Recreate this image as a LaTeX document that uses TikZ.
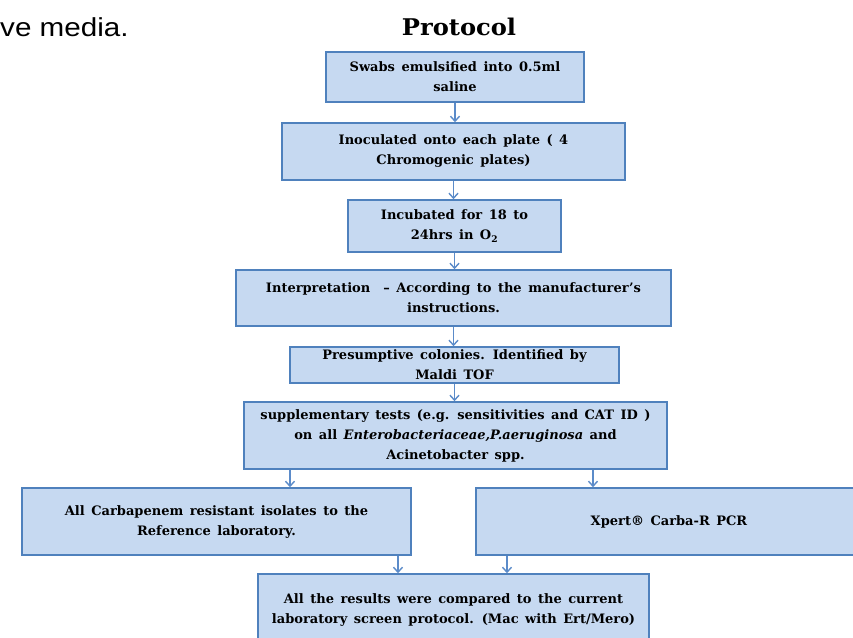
\documentclass[tikz,border=0pt]{standalone}
\usepackage{fontspec}
\setmainfont{DejaVu Serif}
\newfontfamily\slidefont{Liberation Sans}
\usetikzlibrary{arrows.meta}
\definecolor{boxfill}{HTML}{C6D9F1}
\definecolor{boxline}{HTML}{4F81BD}
\definecolor{flowline}{HTML}{5B8BC9}
\newcommand{\widewords}{\spaceskip=0.5em plus 0.1em\relax}
\tikzset{
  stepbox/.style={draw=boxline, line width=1.5pt, fill=boxfill, align=center, inner sep=0pt,
    font=\fontsize{13}{20}\selectfont\bfseries\widewords},
  flow/.style={draw=flowline, line width=1.4pt, -{Straight Barb[length=5pt,width=9pt]}}
}

\begin{document}
\begin{tikzpicture}[x=1pt, y=-1pt]
  \useasboundingbox (0,0) rectangle (853,637);

  \node[anchor=base west, inner sep=0pt, font=\slidefont\fontsize{26}{30}\selectfont] (slide) at (0,36) {\scalebox{1.14}[1]{ve media.}};
  \node[font=\fontsize{23}{26}\selectfont\bfseries] (title) at (459,27) {\scalebox{1.05}[1]{Protocol}};

  \node[stepbox, minimum width=258, minimum height=50] (swab) at (455,77) {Swabs emulsified into 0.5ml\\saline};
  \node[stepbox, minimum width=343, minimum height=57] (inoc) at (453.5,151.5) {Inoculated onto each plate ( 4\\Chromogenic plates)};
  \node[stepbox, minimum width=213, minimum height=52] (incub) at (454.5,226) {Incubated for 18 to\\24hrs in O\textsubscript{2}};
  \node[stepbox, minimum width=435, minimum height=56] (interp) at (453.5,298) {Interpretation \ -- According to the manufacturer's\\instructions.};
  \node[stepbox, minimum width=329, minimum height=36] (presum) at (454.5,365) {Presumptive colonies. Identified by\\Maldi TOF};
  \node[stepbox, minimum width=423, minimum height=67] (supp) at (455.5,435.5) {supplementary tests (e.g. sensitivities and CAT ID )\\on all \textit{Enterobacteriaceae,P.aeruginosa} and\\Acinetobacter spp.};
  \node[stepbox, minimum width=389, minimum height=67] (carb) at (216.5,521.5) {All Carbapenem resistant isolates to the\\Reference laboratory.};
  \node[stepbox, minimum width=386, minimum height=67] (xpert) at (669,521.5) {Xpert® Carba-R PCR};
  \node[stepbox, minimum width=391, minimum height=72] (comp) at (453.5,610) {All the results were compared to the current\\laboratory screen protocol. (Mac with Ert/Mero)};

  \draw[flow] (swab.south) -- (swab.south |- inoc.north);
  \draw[flow] (inoc.south) -- (inoc.south |- incub.north);
  \draw[flow] (incub.south) -- (incub.south |- interp.north);
  \draw[flow] (interp.south) -- (interp.south |- presum.north);
  \draw[flow] (presum.south) -- (presum.south |- supp.north);
  \draw[flow] (supp.south -| 290,0) -- (carb.north -| 290,0);
  \draw[flow] (supp.south -| 593,0) -- (xpert.north -| 593,0);
  \draw[flow] (carb.south -| 398,0) -- (comp.north -| 398,0);
  \draw[flow] (xpert.south -| 507,0) -- (comp.north -| 507,0);
\end{tikzpicture}
\end{document}
